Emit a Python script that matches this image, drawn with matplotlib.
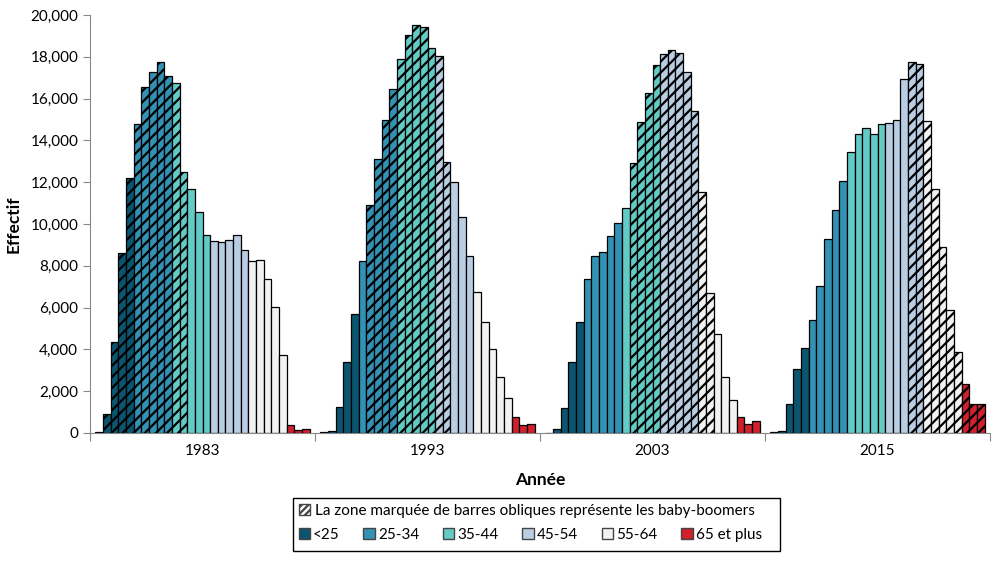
import matplotlib
matplotlib.use("Agg")
import matplotlib.pyplot as plt
from matplotlib.patches import Patch, Rectangle
from matplotlib.ticker import FixedLocator, FuncFormatter

plt.rcParams['font.family'] = ['Lato', 'DejaVu Sans']
plt.rcParams['hatch.linewidth'] = 1.6

# ---- data ----
years = ['1983', '1993', '2003', '2015']
age_groups = ['<25', '25-34', '35-44', '45-54', '55-64', '65 et plus']
bars_per_group = [5, 5, 5, 5, 5, 3]
group_colors = ['#0b5570', '#3391b4', '#63cbc5', '#b9cde3', '#f2f2f2', '#d0202e']

v1983 = [60, 910, 4340, 8600, 12190, 14780, 16540, 17260, 17740, 17100,
         16730, 12470, 11660, 10560, 9460, 9190, 9120, 9220, 9460, 8740,
         8230, 8280, 7370, 6030, 3720, 370, 130, 180]
v1993 = [60, 110, 1230, 3380, 5690, 8250, 10890, 13090, 14960, 16440,
         17880, 19030, 19520, 19410, 18410, 18020, 12980, 12030, 10320, 8490,
         6760, 5300, 4000, 2660, 1660, 780, 380, 410]
v2003 = [15, 190, 1180, 3380, 5300, 7350, 8450, 8660, 9410, 10050,
         10750, 12900, 14900, 16280, 17610, 18120, 18330, 18170, 17260, 15410,
         11550, 6710, 4720, 2700, 1580, 750, 410, 570]
v2015 = [30, 80, 1370, 3050, 4050, 5390, 7030, 9280, 10670, 12060,
         13430, 14290, 14580, 14290, 14770, 14820, 14960, 16920, 17770, 17640,
         14910, 11660, 8900, 5870, 3880, 2340, 1370, 1370]
values = [v1983, v1993, v2003, v2015]

# baby-boomer bars (1-based, inclusive)
boomer_first = [2, 7, 12, 19]
boomer_last = [12, 17, 22, 28]

legend_title = "La zone marquée de barres obliques représente les baby-boomers"

# colour of each bar position
bar_colors = []
for c, n in zip(group_colors, bars_per_group):
    bar_colors += [c] * n

fig = plt.figure(figsize=(10.06, 5.68), dpi=100)
ax = fig.add_axes([90 / 1006, 1 - 433 / 568, 900 / 1006, 418 / 568])

n_bars = len(v1983)
width = 0.034
for gi, vals in enumerate(values):
    start = gi - n_bars * width / 2
    for j, v in enumerate(vals):
        hatched = boomer_first[gi] <= j + 1 <= boomer_last[gi]
        ax.bar(start + (j + 0.5) * width, v, width=width,
               color=bar_colors[j], edgecolor='black', linewidth=0.9,
               hatch='///' if hatched else None)

ax.set_xlim(-0.5, 3.5)
ax.set_ylim(0, 20000)
ax.set_yticks(range(0, 20001, 2000))
ax.yaxis.set_major_formatter(FuncFormatter(lambda x, p: f"{int(x):,}"))

ax.xaxis.set_major_locator(FixedLocator([-0.5, 0.5, 1.5, 2.5, 3.5]))
ax.xaxis.set_minor_locator(FixedLocator(range(len(years))))
ax.set_xticklabels([], minor=False)
ax.set_xticklabels(years, minor=True)
ax.tick_params(axis='x', which='major', length=6, color='#888888')
ax.tick_params(axis='x', which='minor', length=0, pad=8, labelsize=11)
ax.tick_params(axis='y', length=5, color='#888888', labelsize=11)

for s in ['top', 'right']:
    ax.spines[s].set_visible(False)
for s in ['left', 'bottom']:
    ax.spines[s].set_color('#888888')

ax.set_xlabel("Année", fontsize=12.5, fontweight='bold', labelpad=10)
ax.set_ylabel("Effectif", fontsize=12.5, fontweight='bold', labelpad=6)

# legend: frame + two rows
fig.patches.append(Rectangle((293 / 1006, 1 - 551 / 568), 487 / 1006, 53 / 568,
                             transform=fig.transFigure, facecolor='white',
                             edgecolor='black', linewidth=1))
h1 = [Patch(facecolor='white', edgecolor='#444444', hatch='/////', label=legend_title)]
fig.legend(handles=h1, loc='upper left', bbox_to_anchor=(294 / 1006, 1 - 499 / 568),
           frameon=False, fontsize=11, handlelength=0.75, handleheight=0.75,
           handletextpad=0.35, borderaxespad=0, borderpad=0.3)
h2 = [Patch(facecolor=c, edgecolor='#444444', label=a)
      for c, a in zip(group_colors, age_groups)]
fig.legend(handles=h2, loc='upper left', bbox_to_anchor=(294 / 1006, 1 - 523 / 568),
           frameon=False, fontsize=11, ncol=6, handlelength=0.75, handleheight=0.75,
           handletextpad=0.2, columnspacing=1.55, borderaxespad=0, borderpad=0.3)

fig.savefig("out.png", dpi=100)
